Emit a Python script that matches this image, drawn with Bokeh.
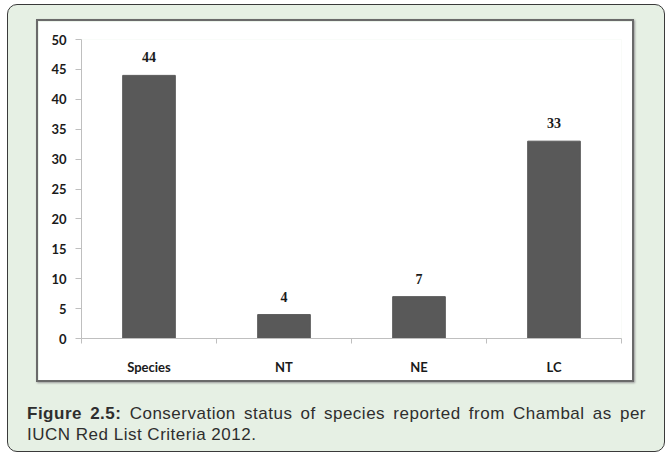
from bokeh.plotting import figure
from bokeh.models import Div, FixedTicker, LabelSet, ColumnDataSource
from bokeh.layouts import column
from bokeh.embed import file_html
from bokeh.resources import INLINE

categories = ["Species", "NT", "NE", "LC"]
counts = [44, 4, 7, 33]
y_ticks = [0, 5, 10, 15, 20, 25, 30, 35, 40, 45, 50]
caption_bold = "Figure 2.5:"
caption_line1 = "Conservation status of species reported from Chambal as per"
caption_line2 = "IUCN Red List Criteria 2012."

xs = list(range(1, len(categories) + 1))
src = ColumnDataSource(dict(x=xs, top=counts, lab=[str(c) for c in counts]))

p = figure(width=598, height=363, x_range=(0.5, len(categories) + 0.5), y_range=(0, 50),
           output_backend="svg", toolbar_location=None,
           min_border_left=43, min_border_right=15, min_border_top=18, min_border_bottom=46)
p.background_fill_color = "white"
p.border_fill_color = "white"
p.outline_line_color = None
p.xgrid.visible = False
p.ygrid.visible = False

p.vbar(x="x", top="top", width=0.39, source=src, fill_color="#595959", line_color="#595959")
p.add_layout(LabelSet(x="x", y="top", text="lab", source=src, y_offset=13,
                      text_align="center", text_baseline="bottom",
                      text_font="Lato", text_font_style="bold", text_font_size="14px",
                      text_color="#1a1a1a"))

xa = p.xaxis[0]
xa.ticker = FixedTicker(ticks=xs, minor_ticks=[x - 0.5 for x in xs] + [xs[-1] + 0.5])
xa.major_label_overrides = {x: c for x, c in zip(xs, categories)}
xa.major_tick_out = 0
xa.major_tick_in = 0
xa.minor_tick_out = 5
xa.minor_tick_in = 0
xa.minor_tick_line_color = "#bfbfbf"
xa.axis_line_color = "#bfbfbf"
xa.major_label_standoff = 15
xa.major_label_text_font = "Lato"
xa.major_label_text_font_style = "bold"
xa.major_label_text_font_size = "13px"
xa.major_label_text_color = "#1a1a1a"

ya = p.yaxis[0]
ya.ticker = FixedTicker(ticks=y_ticks, minor_ticks=[])
ya.major_tick_out = 6
ya.major_tick_in = 0
ya.major_tick_line_color = "#bfbfbf"
ya.axis_line_color = "#bfbfbf"
ya.major_label_standoff = 9
ya.major_label_text_font = "Lato"
ya.major_label_text_font_style = "bold"
ya.major_label_text_font_size = "13px"
ya.major_label_text_color = "#1a1a1a"

p.margin = (14, 0, 0, 28)
p.styles = {"border": "2px solid #6a6a6a", "box-shadow": "1px 1px 2px #999"}

cap = Div(text=(f'<div style="width: 619px; text-align: justify; text-align-last: justify;">'
                f'<span style="font-weight: bold;">{caption_bold}</span> {caption_line1}</div>'
                f'<div style="width: 619px; text-align: left;">{caption_line2}</div>'),
          width=620, margin=(21, 0, 0, 19),
          styles={"font-family": "'Liberation Sans', Arial, sans-serif", "font-size": "17px",
                  "line-height": "21px", "color": "#2e2e2e", "letter-spacing": "0.5px"})

outer = column(p, cap, width=658, height=448, margin=(4, 0, 0, 7),
               styles={"background-color": "#e6f0e4", "border": "1.5px solid #3a3a3a",
                       "border-radius": "10px", "box-sizing": "border-box"})

open("out.html", "w").write(file_html(outer, INLINE))
